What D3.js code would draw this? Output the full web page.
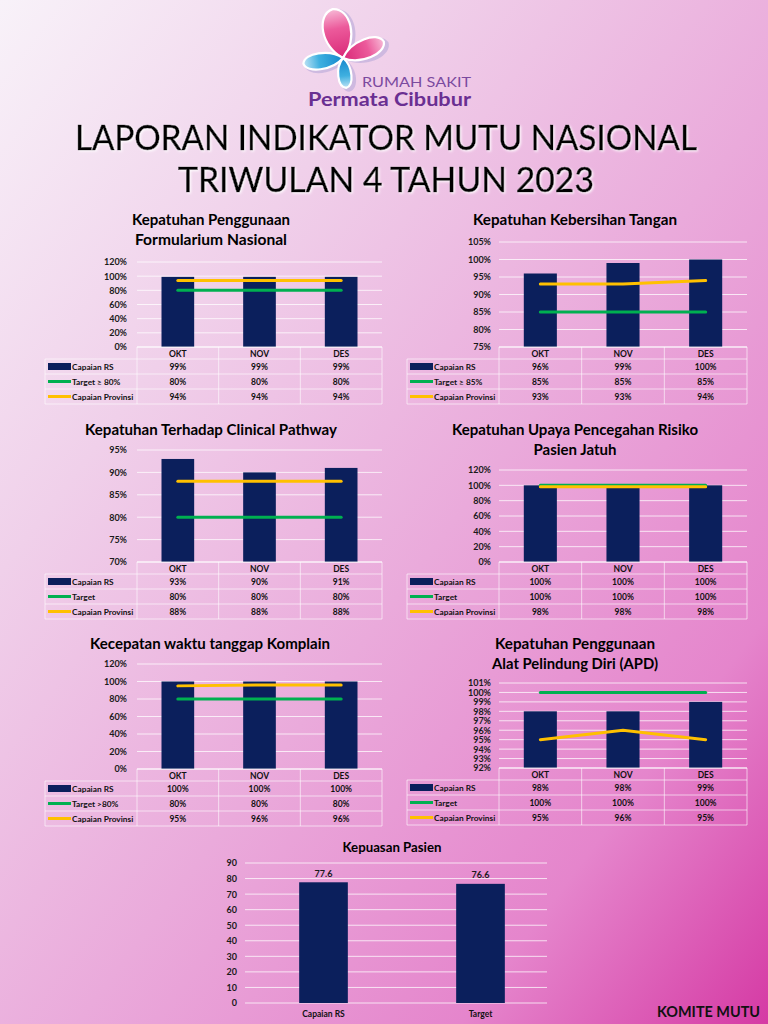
<!DOCTYPE html>
<html><head><meta charset="utf-8">
<script src="https://cdn.jsdelivr.net/npm/d3@7"></script>
<style>body{margin:0;background:#fff}svg{display:block}</style>
</head><body>
<script>
// ---------- DATA ----------
const months = ["OKT", "NOV", "DES"];

const formCapaian = [99, 99, 99];
const formTarget = [80, 80, 80];
const formProv = [94, 94, 94];
const formLabels = ["Capaian RS", "Target \u2265 80%", "Capaian Provinsi"];

const tanganCapaian = [96, 99, 100];
const tanganTarget = [85, 85, 85];
const tanganProv = [93, 93, 94];
const tanganLabels = ["Capaian RS", "Target \u2265 85%", "Capaian Provinsi"];

const cpCapaian = [93, 90, 91];
const cpTarget = [80, 80, 80];
const cpProv = [88, 88, 88];
const cpLabels = ["Capaian RS", "Target", "Capaian Provinsi"];

const jatuhCapaian = [100, 100, 100];
const jatuhTarget = [100, 100, 100];
const jatuhProv = [98, 98, 98];
const jatuhLabels = ["Capaian RS", "Target", "Capaian Provinsi"];

const komplainCapaian = [100, 100, 100];
const komplainTarget = [80, 80, 80];
const komplainProv = [95, 96, 96];
const komplainLabels = ["Capaian RS", "Target >80%", "Capaian Provinsi"];

const apdCapaian = [98, 98, 99];
const apdTarget = [100, 100, 100];
const apdProv = [95, 96, 95];
const apdLabels = ["Capaian RS", "Target", "Capaian Provinsi"];

const kepuasanCats = ["Capaian RS", "Target"];
const kepuasanValues = [77.6, 76.6];

const ticks0to120 = [0, 20, 40, 60, 80, 100, 120];
const ticks75to105 = [75, 80, 85, 90, 95, 100, 105];
const ticks70to95 = [70, 75, 80, 85, 90, 95];
const ticks92to101 = [92, 93, 94, 95, 96, 97, 98, 99, 100, 101];
const ticks0to90 = [0, 10, 20, 30, 40, 50, 60, 70, 80, 90];

// ---------- STYLE ----------
const NAVY = "#0b1f5c", GREEN = "#00b050", GOLD = "#ffc000";
const FONT = "Lato, 'Open Sans', sans-serif";
const W = 768, H = 1024;

const svg = d3.select("body").append("svg").attr("width", W).attr("height", H);
const defs = svg.append("defs");

const bg = defs.append("linearGradient").attr("id", "bg")
  .attr("x1", 0).attr("y1", 0).attr("x2", 1).attr("y2", 1);
[[0, "#f8f2f9"], [0.28, "#f0d0ea"], [0.55, "#eaaadb"], [0.8, "#e585cc"], [1, "#d53aa4"]]
  .forEach(([o, c]) => bg.append("stop").attr("offset", o).attr("stop-color", c));

const glow = defs.append("filter").attr("id", "glow").attr("x", "-5%").attr("y", "-30%").attr("width", "110%").attr("height", "160%");
glow.append("feDropShadow").attr("dx", 1.2).attr("dy", 1.2).attr("stdDeviation", 0.8)
  .attr("flood-color", "#ffffff").attr("flood-opacity", 0.9);

const pinkG = defs.append("linearGradient").attr("id", "pinkG").attr("x1", 0).attr("y1", 0).attr("x2", 1).attr("y2", 0);
pinkG.append("stop").attr("offset", 0).attr("stop-color", "#d92a78");
pinkG.append("stop").attr("offset", 0.6).attr("stop-color", "#ec5a9b");
pinkG.append("stop").attr("offset", 1).attr("stop-color", "#f7b9d6");
const blueG = defs.append("linearGradient").attr("id", "blueG").attr("x1", 0).attr("y1", 0).attr("x2", 1).attr("y2", 0);
blueG.append("stop").attr("offset", 0).attr("stop-color", "#1687cc");
blueG.append("stop").attr("offset", 0.6).attr("stop-color", "#3fb0e0");
blueG.append("stop").attr("offset", 1).attr("stop-color", "#bfe3f5");

svg.append("rect").attr("width", W).attr("height", H).attr("fill", "url(#bg)");

// ---------- LOGO ----------
function petalPath(len, w) {
  return `M0,0 C${len * 0.3},${-w} ${len * 0.95},${-w * 0.95} ${len},0 C${len * 0.95},${w * 0.95} ${len * 0.3},${w} 0,0 Z`;
}
const logo = svg.append("g");
const petals = [
  { x: 343, y: 58, len: 50, w: 19, a: -102, fill: "url(#pinkG)" },
  { x: 343, y: 58, len: 44, w: 13, a: -22, fill: "url(#pinkG)" },
  { x: 343, y: 58, len: 40, w: 11, a: 172, fill: "url(#blueG)" },
  { x: 343, y: 58, len: 30, w: 9, a: 84, fill: "url(#blueG)" }
];
petals.forEach(p => {
  logo.append("path").attr("d", petalPath(p.len + 2, p.w + 2))
    .attr("transform", `translate(${p.x + 3},${p.y + 2}) rotate(${p.a})`)
    .attr("fill", "#c6b3dd").attr("opacity", 0.8);
});
petals.forEach(p => {
  logo.append("path").attr("d", petalPath(p.len, p.w))
    .attr("transform", `translate(${p.x},${p.y}) rotate(${p.a})`)
    .attr("fill", p.fill).attr("stroke", "#ffffff").attr("stroke-width", 2.2);
});
logo.append("text").attr("x", 362).attr("y", 87).attr("textLength", 109).attr("lengthAdjust", "spacingAndGlyphs")
  .attr("font-family", FONT).attr("font-size", 14).attr("fill", "#7b4a9f").text("RUMAH SAKIT");
logo.append("text").attr("x", 308).attr("y", 106).attr("textLength", 163).attr("lengthAdjust", "spacingAndGlyphs")
  .attr("font-family", FONT).attr("font-weight", 700).attr("font-size", 18).attr("fill", "#6a2f92").text("Permata Cibubur");

// ---------- MAIN TITLE ----------
const titleLines = [["LAPORAN INDIKATOR MUTU NASIONAL", 75, 150, 622], ["TRIWULAN 4 TAHUN 2023", 178, 192, 416]];
titleLines.forEach(([t, tx, ty, tw]) => {
  svg.append("text").attr("x", tx).attr("y", ty).attr("textLength", tw).attr("lengthAdjust", "spacingAndGlyphs")
    .attr("font-family", FONT).attr("font-size", 35).attr("fill", "#000").attr("stroke", "#000").attr("stroke-width", 0.5)
    .attr("filter", "url(#glow)").text(t);
});

// ---------- COMBO CHARTS ----------
function drawTitle(lines, cx, y, widths, size) {
  lines.forEach((t, i) => {
    svg.append("text").attr("x", cx - widths[i] / 2).attr("y", y + i * 20)
      .attr("textLength", widths[i]).attr("lengthAdjust", "spacingAndGlyphs")
      .attr("font-family", FONT).attr("font-weight", 700).attr("font-size", size)
      .attr("fill", "#000").text(t);
  });
}

function combo(c) {
  const g = svg.append("g");
  const x = d3.scaleBand().domain(months).range([c.x0, c.x1]).paddingInner(0.6).paddingOuter(0.3);
  const band = d3.scaleBand().domain(months).range([c.x0, c.x1]);
  const y = d3.scaleLinear().domain([c.ticks[0], c.ticks[c.ticks.length - 1]]).range([c.yb, c.yt]);

  g.append("g").selectAll("line").data(c.ticks).join("line")
    .attr("x1", c.x0).attr("x2", c.x1).attr("y1", d => y(d)).attr("y2", d => y(d))
    .attr("stroke", "#ffffff").attr("stroke-opacity", 0.75).attr("stroke-width", 1);

  const ax = g.append("g").attr("transform", `translate(${c.labelX},0)`)
    .call(d3.axisLeft(y).tickValues(c.ticks).tickSize(0).tickPadding(0).tickFormat(d => d + "%"));
  ax.select(".domain").remove();
  ax.selectAll("text").attr("font-family", FONT).attr("font-weight", 700).attr("font-size", 9).attr("fill", "#1a1a1a");

  g.append("g").selectAll("rect").data(c.capaian).join("rect")
    .attr("x", (d, i) => x(months[i])).attr("width", x.bandwidth())
    .attr("y", d => y(d)).attr("height", d => c.yb - y(d)).attr("fill", NAVY);

  const line = d3.line().x((d, i) => band(months[i]) + band.bandwidth() / 2).y(d => y(d));
  g.append("path").datum(c.target).attr("d", line).attr("fill", "none")
    .attr("stroke", GREEN).attr("stroke-width", 3).attr("stroke-linecap", "round");
  g.append("path").datum(c.prov).attr("d", line).attr("fill", "none")
    .attr("stroke", GOLD).attr("stroke-width", 3).attr("stroke-linecap", "round");

  const hh = 12, rh = 15;
  const tb = g.append("g");
  const lineCol = "#ffffff";
  const rowsBottom = c.yb + hh + rh * 3;
  tb.append("line").attr("x1", c.x0).attr("x2", c.x1).attr("y1", c.yb).attr("y2", c.yb)
    .attr("stroke", lineCol).attr("stroke-opacity", 0.8);
  [c.yb + hh, c.yb + hh + rh, c.yb + hh + 2 * rh, rowsBottom].forEach(yy =>
    tb.append("line").attr("x1", c.legX - 3).attr("x2", c.x1).attr("y1", yy).attr("y2", yy)
      .attr("stroke", lineCol).attr("stroke-opacity", 0.6));
  [c.x0].concat(months.map(m => band(m) + band.bandwidth())).forEach(xx =>
    tb.append("line").attr("x1", xx).attr("x2", xx).attr("y1", c.yb).attr("y2", rowsBottom)
      .attr("stroke", lineCol).attr("stroke-opacity", 0.6));
  tb.append("line").attr("x1", c.legX - 3).attr("x2", c.legX - 3).attr("y1", c.yb + hh).attr("y2", rowsBottom)
    .attr("stroke", lineCol).attr("stroke-opacity", 0.6);

  tb.selectAll("text.hdr").data(months).join("text").attr("class", "hdr")
    .attr("x", d => band(d) + band.bandwidth() / 2).attr("y", c.yb + hh / 2 + 1)
    .attr("text-anchor", "middle").attr("dominant-baseline", "central")
    .attr("font-family", FONT).attr("font-weight", 700).attr("font-size", 8.5).attr("fill", "#111").text(d => d);

  const series = [c.capaian, c.target, c.prov];
  series.forEach((s, r) => {
    const cy = c.yb + hh + rh * r + rh / 2;
    tb.selectAll(`text.r${r}`).data(s).join("text").attr("class", `r${r}`)
      .attr("x", (d, i) => band(months[i]) + band.bandwidth() / 2).attr("y", cy)
      .attr("text-anchor", "middle").attr("dominant-baseline", "central")
      .attr("font-family", FONT).attr("font-weight", 700).attr("font-size", 8.5).attr("fill", "#111")
      .text(d => d + "%");
    if (r === 0) {
      tb.append("rect").attr("x", c.legX).attr("y", cy - 3.5).attr("width", 23).attr("height", 7).attr("fill", NAVY);
    } else {
      tb.append("line").attr("x1", c.legX).attr("x2", c.legX + 23).attr("y1", cy).attr("y2", cy)
        .attr("stroke", r === 1 ? GREEN : GOLD).attr("stroke-width", 3);
    }
    tb.append("text").attr("x", c.legX + 24).attr("y", cy).attr("dominant-baseline", "central")
      .attr("font-family", FONT).attr("font-weight", 700).attr("font-size", 8.3).attr("fill", "#111")
      .text(c.labels[r]);
  });
}

const L = { x0: 137, x1: 382, labelX: 127, legX: 48 };
const R = { x0: 499, x1: 747, labelX: 491, legX: 410 };

drawTitle(["Kepatuhan Penggunaan", "Formularium Nasional"], 211, 225, [158, 152], 15);
combo(Object.assign({}, L, { yt: 262, yb: 347, ticks: ticks0to120, capaian: formCapaian, target: formTarget, prov: formProv, labels: formLabels }));

drawTitle(["Kepatuhan Kebersihan Tangan"], 575, 225, [204], 15);
combo(Object.assign({}, R, { yt: 242, yb: 347, ticks: ticks75to105, capaian: tanganCapaian, target: tanganTarget, prov: tanganProv, labels: tanganLabels }));

drawTitle(["Kepatuhan Terhadap Clinical Pathway"], 211, 435, [252], 15);
combo(Object.assign({}, L, { yt: 450, yb: 562, ticks: ticks70to95, capaian: cpCapaian, target: cpTarget, prov: cpProv, labels: cpLabels }));

drawTitle(["Kepatuhan Upaya Pencegahan Risiko", "Pasien Jatuh"], 575, 435, [246, 83], 15);
combo(Object.assign({}, R, { yt: 470, yb: 562, ticks: ticks0to120, capaian: jatuhCapaian, target: jatuhTarget, prov: jatuhProv, labels: jatuhLabels }));

drawTitle(["Kecepatan waktu tanggap Komplain"], 210, 649, [240], 15);
combo(Object.assign({}, L, { yt: 664, yb: 769, ticks: ticks0to120, capaian: komplainCapaian, target: komplainTarget, prov: komplainProv, labels: komplainLabels }));

drawTitle(["Kepatuhan Penggunaan", "Alat Pelindung Diri (APD)"], 575, 649, [160, 166], 15);
combo(Object.assign({}, R, { yt: 683, yb: 768, ticks: ticks92to101, capaian: apdCapaian, target: apdTarget, prov: apdProv, labels: apdLabels }));

// ---------- KEPUASAN PASIEN ----------
(function () {
  drawTitle(["Kepuasan Pasien"], 392, 852, [99], 13);
  const g = svg.append("g");
  const x0 = 245, x1 = 559, yt = 863, yb = 1003;
  const x = d3.scaleBand().domain(kepuasanCats).range([x0, x1]).paddingInner(0.69).paddingOuter(0.345);
  const y = d3.scaleLinear().domain([0, 90]).range([yb, yt]);
  g.selectAll("line.grid").data(ticks0to90).join("line").attr("class", "grid")
    .attr("x1", x0).attr("x2", x1 - 12).attr("y1", d => y(d)).attr("y2", d => y(d))
    .attr("stroke", "#ffffff").attr("stroke-opacity", 0.75);
  const ax = g.append("g").attr("transform", `translate(237,0)`)
    .call(d3.axisLeft(y).tickValues(ticks0to90).tickSize(0).tickPadding(0));
  ax.select(".domain").remove();
  ax.selectAll("text").attr("font-family", FONT).attr("font-weight", 700).attr("font-size", 9).attr("fill", "#1a1a1a");
  g.selectAll("rect").data(kepuasanValues).join("rect")
    .attr("x", (d, i) => x(kepuasanCats[i])).attr("width", x.bandwidth())
    .attr("y", d => y(d)).attr("height", d => yb - y(d)).attr("fill", NAVY);
  g.selectAll("text.val").data(kepuasanValues).join("text").attr("class", "val")
    .attr("x", (d, i) => x(kepuasanCats[i]) + x.bandwidth() / 2).attr("y", d => y(d) - 9)
    .attr("text-anchor", "middle").attr("dominant-baseline", "central")
    .attr("font-family", FONT).attr("font-weight", 700).attr("font-size", 9).attr("fill", "#1a1a1a").text(d => d);
  const xa = g.append("g").attr("transform", `translate(0,${yb})`)
    .call(d3.axisBottom(x).tickSize(0).tickPadding(8));
  xa.select(".domain").remove();
  xa.selectAll("text").attr("font-family", FONT).attr("font-weight", 700).attr("font-size", 8.5).attr("fill", "#111");
})();

// ---------- FOOTER ----------
svg.append("text").attr("x", 657).attr("y", 1017).attr("textLength", 103).attr("lengthAdjust", "spacingAndGlyphs")
  .attr("font-family", FONT).attr("font-weight", 700).attr("font-size", 15).attr("fill", "#111").text("KOMITE MUTU");
</script>
</body></html>
